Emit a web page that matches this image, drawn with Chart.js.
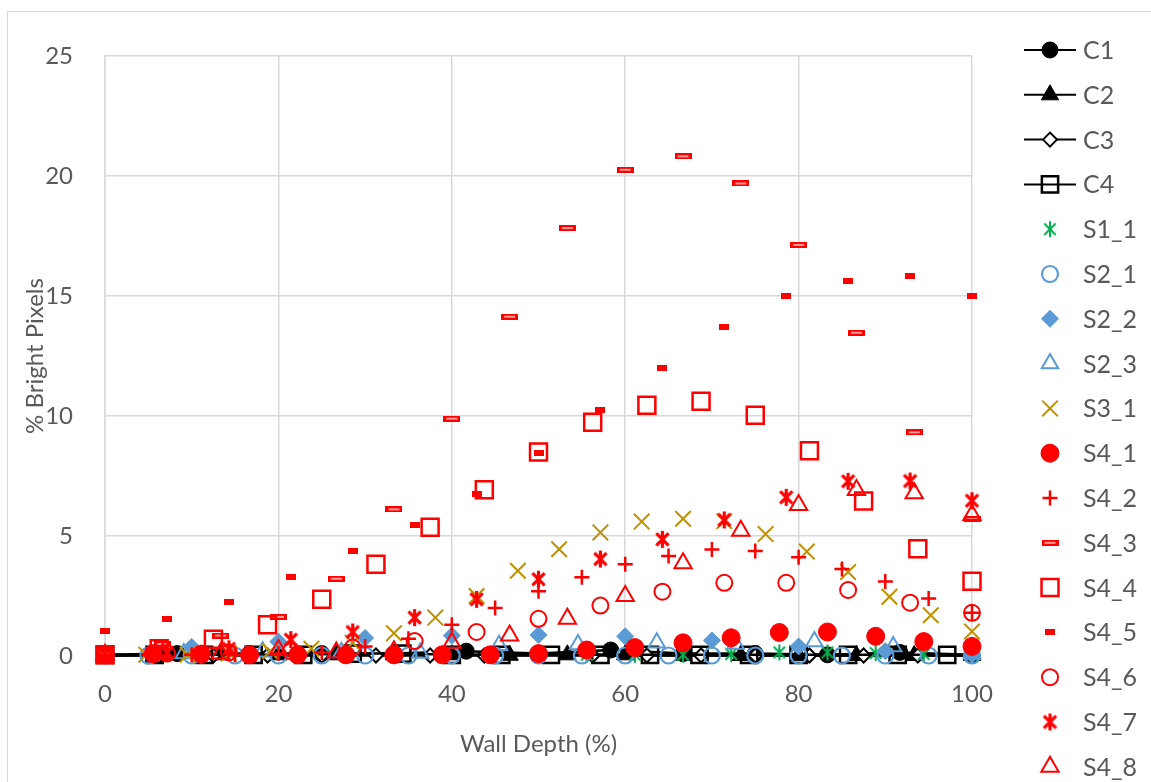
<!DOCTYPE html>
<html>
<head>
<meta charset="utf-8">
<script src="https://cdn.jsdelivr.net/npm/chart.js@4.4.1/dist/chart.umd.min.js"></script>
<style>
    html, body { margin: 0; padding: 0; background: #fff; }
    #wrap { width: 1151px; height: 782px; position: relative; }
</style>
</head>
<body>
<div id="wrap"><canvas id="chart"></canvas></div>
<script>
// ---- data ----
const xTicks = [0, 20, 40, 60, 80, 100];
const yTicks = [0, 5, 10, 15, 20, 25];

const c1X = [0, 8.33, 16.67, 25, 33.33, 41.67, 50, 58.33, 66.67, 75, 83.33, 91.67, 100];
const c1Y = [0.05, 0.1, 0.1, 0.1, 0.1, 0.2, 0.1, 0.25, 0.1, 0.1, 0.05, 0.15, 0.05];

const c2X = [0, 6.67, 13.33, 20, 26.67, 33.33, 40, 46.67, 53.33, 60, 66.67, 73.33, 80, 86.67, 93.33, 100];
const c2Y = [0, 0.05, 0.05, 0.05, 0.05, 0.05, 0.05, 0.03, 0.05, 0.05, 0.02, 0.02, 0.02, 0.02, 0.02, 0.02];

const c3X = [0, 6.25, 12.5, 18.75, 25, 31.25, 37.5, 43.75, 50, 56.25, 62.5, 68.75, 75, 81.25, 87.5, 93.75, 100];
const c3Y = [0.02, 0.02, 0.02, 0.02, 0.02, 0.02, 0.02, 0.02, 0.02, 0.02, 0.02, 0.02, 0.02, 0.02, 0.02, 0.02, 0.02];

const c4X = [0, 5.71, 11.43, 17.14, 22.86, 28.57, 34.29, 40, 45.71, 51.43, 57.14, 62.86, 68.57, 74.29, 80, 85.71, 91.43, 97.14];
const c4Y = [0.05, 0.05, 0.05, 0.05, 0.05, 0.1, 0.1, 0.05, 0.05, 0.05, 0.05, 0.05, 0.05, 0.05, 0.05, 0.05, 0.05, 0.05];

const s11X = [0, 5.56, 11.11, 16.67, 22.22, 27.78, 33.33, 38.89, 44.44, 50, 55.56, 61.11, 66.67, 72.22, 77.78, 83.33, 88.89, 94.44, 100];
const s11Y = [0, 0, 0, 0, 0, 0.02, 0.02, 0.02, 0.05, 0.05, 0.05, 0.05, 0.05, 0.08, 0.15, 0.15, 0.12, 0.08, 0.05];

const s21X = [0, 5, 10, 15, 20, 25, 30, 35, 40, 45, 50, 55, 60, 65, 70, 75, 80, 85, 90, 95, 100];
const s21Y = [0.02, 0.02, 0.02, 0.02, 0.02, 0.02, 0.02, 0.02, 0.02, 0.02, 0.02, 0.02, 0.02, 0.02, 0.02, 0.02, 0.02, 0.02, 0.02, 0.02, 0.02];

const s22X = [0, 10, 20, 30, 40, 50, 60, 70, 80, 90, 100];
const s22Y = [0.1, 0.38, 0.6, 0.75, 0.85, 0.88, 0.82, 0.65, 0.4, 0.2, 0.05];

const s23X = [0, 9.09, 18.18, 27.27, 36.36, 45.45, 54.55, 63.64, 72.73, 81.82, 90.91, 100];
const s23Y = [0.02, 0.1, 0.18, 0.15, 0.12, 0.45, 0.48, 0.55, 0.5, 0.6, 0.4, 0.1];

const s31X = [0, 4.76, 9.52, 14.29, 19.05, 23.81, 28.57, 33.33, 38.1, 42.86, 47.62, 52.38, 57.14, 61.9, 66.67, 71.43, 76.19, 80.95, 85.71, 90.48, 95.24, 100];
const s31Y = [0, 0.05, 0.05, 0.1, 0.2, 0.3, 0.55, 0.95, 1.6, 2.5, 3.55, 4.45, 5.15, 5.6, 5.72, 5.62, 5.08, 4.35, 3.5, 2.47, 1.7, 1.02];

const s41X = [0, 5.56, 11.11, 16.67, 22.22, 27.78, 33.33, 38.89, 44.44, 50, 55.56, 61.11, 66.67, 72.22, 77.78, 83.33, 88.89, 94.44, 100];
const s41Y = [0.05, 0.1, 0.08, 0.05, 0.05, 0.05, 0.05, 0.05, 0.05, 0.1, 0.25, 0.35, 0.55, 0.76, 0.98, 1.0, 0.82, 0.6, 0.4];

const s42X = [0, 5, 10, 15, 20, 25, 30, 35, 40, 45, 50, 55, 60, 65, 70, 75, 80, 85, 90, 95, 100];
const s42Y = [0.05, 0.05, 0.05, 0.05, 0.1, 0.15, 0.4, 0.72, 1.3, 2.0, 2.7, 3.28, 3.82, 4.17, 4.44, 4.37, 4.11, 3.63, 3.1, 2.4, 1.8];

const s43X = [0, 6.67, 13.33, 20, 26.67, 33.33, 40, 46.67, 53.33, 60, 66.67, 73.33, 80, 86.67, 93.33, 100];
const s43Y = [0.15, 0.5, 0.85, 1.63, 3.22, 6.11, 9.89, 14.14, 17.83, 20.26, 20.82, 19.69, 17.13, 13.47, 9.32, 5.7];

const s44X = [0, 6.25, 12.5, 18.75, 25, 31.25, 37.5, 43.75, 50, 56.25, 62.5, 68.75, 75, 81.25, 87.5, 93.75, 100];
const s44Y = [0.05, 0.3, 0.7, 1.3, 2.36, 3.82, 5.36, 6.93, 8.5, 9.74, 10.45, 10.61, 10.03, 8.55, 6.46, 4.47, 3.11];

const s45X = [0, 7.14, 14.29, 21.43, 28.57, 35.71, 42.86, 50, 57.14, 64.29, 71.43, 78.57, 85.71, 92.86, 100];
const s45Y = [1.05, 1.55, 2.26, 3.31, 4.39, 5.46, 6.76, 8.45, 10.25, 12.02, 13.69, 15.0, 15.64, 15.82, 15.0];

const s46X = [0, 7.14, 14.29, 21.43, 28.57, 35.71, 42.86, 50, 57.14, 64.29, 71.43, 78.57, 85.71, 92.86, 100];
const s46Y = [0.05, 0.1, 0.15, 0.2, 0.35, 0.62, 1.0, 1.55, 2.1, 2.68, 3.05, 3.05, 2.75, 2.22, 1.8];

const s47X = [0, 7.14, 14.29, 21.43, 28.57, 35.71, 42.86, 50, 57.14, 64.29, 71.43, 78.57, 85.71, 92.86, 100];
const s47Y = [0.1, 0.15, 0.3, 0.68, 1.0, 1.6, 2.36, 3.2, 4.04, 4.86, 5.67, 6.61, 7.28, 7.29, 6.47];

const s48X = [0, 6.67, 13.33, 20, 26.67, 33.33, 40, 46.67, 53.33, 60, 66.67, 73.33, 80, 86.67, 93.33, 100];
const s48Y = [0.05, 0.1, 0.1, 0.25, 0.15, 0.2, 0.55, 0.85, 1.55, 2.5, 3.86, 5.22, 6.29, 6.92, 6.78, 5.87];

// ---- styles ----
const GREEN = '#00B050', BLUE = '#5B9BD5', GOLD = '#BF9000', RED = '#FF0000';
const TEXT = '#595959', GRID = '#D9D9D9';
const FONT = "Lato, 'Liberation Sans', sans-serif";

function makeAsterisk(color, size, lw) {
    const c = document.createElement('canvas');
    c.width = c.height = size;
    const g = c.getContext('2d');
    const m = size / 2, r = size / 2 - 1, d = r * 0.72;
    g.strokeStyle = color;
    g.lineWidth = lw;
    g.beginPath();
    g.moveTo(m, m - r); g.lineTo(m, m + r);
    g.moveTo(m - d, m - d); g.lineTo(m + d, m + d);
    g.moveTo(m + d, m - d); g.lineTo(m - d, m + d);
    g.stroke();
    return c;
}

function makeDash(w, h, color, inner) {
    const c = document.createElement('canvas');
    c.width = w; c.height = h;
    const g = c.getContext('2d');
    g.fillStyle = color;
    g.fillRect(0, 0, w, h);
    if (inner) {
        g.fillStyle = inner;
        g.fillRect(3, 2, w - 6, h - 4);
    }
    return c;
}

const starGreen = makeAsterisk(GREEN, 18, 2);
const starRed = makeAsterisk(RED, 19, 3.2);
const dashOpen = makeDash(17, 6, RED, '#FF9A9A');
const dashFull = makeDash(10, 6, RED, null);

const series = [
    {label: 'C1', x: c1X, y: c1Y, style: 'circle', r: 8, fill: '#000', stroke: '#000', bw: 1, line: true},
    {label: 'C2', x: c2X, y: c2Y, style: 'triangle', r: 10, fill: '#000', stroke: '#000', bw: 1, line: true},
    {label: 'C3', x: c3X, y: c3Y, style: 'rectRot', r: 7, fill: '#fff', stroke: '#000', bw: 2, line: true},
    {label: 'C4', x: c4X, y: c4Y, style: 'rect', r: 11.5, fill: 'rgba(0,0,0,0)', stroke: '#000', bw: 2.5, line: true},
    {label: 'S1_1', x: s11X, y: s11Y, style: starGreen, r: 8, fill: GREEN, stroke: GREEN, bw: 0},
    {label: 'S2_1', x: s21X, y: s21Y, style: 'circle', r: 8, fill: 'rgba(0,0,0,0)', stroke: BLUE, bw: 2.2},
    {label: 'S2_2', x: s22X, y: s22Y, style: 'rectRot', r: 8.5, fill: BLUE, stroke: BLUE, bw: 1},
    {label: 'S2_3', x: s23X, y: s23Y, style: 'triangle', r: 9.5, fill: 'rgba(0,0,0,0)', stroke: BLUE, bw: 2},
    {label: 'S3_1', x: s31X, y: s31Y, style: 'crossRot', r: 11, fill: GOLD, stroke: GOLD, bw: 2},
    {label: 'S4_1', x: s41X, y: s41Y, style: 'circle', r: 9, fill: RED, stroke: RED, bw: 1},
    {label: 'S4_2', x: s42X, y: s42Y, style: 'cross', r: 7.5, fill: RED, stroke: RED, bw: 2.5},
    {label: 'S4_3', x: s43X, y: s43Y, style: dashOpen, r: 8, fill: RED, stroke: RED, bw: 0},
    {label: 'S4_4', x: s44X, y: s44Y, style: 'rect', r: 12, fill: 'rgba(0,0,0,0)', stroke: RED, bw: 2.5},
    {label: 'S4_5', x: s45X, y: s45Y, style: dashFull, r: 6, fill: RED, stroke: RED, bw: 0},
    {label: 'S4_6', x: s46X, y: s46Y, style: 'circle', r: 8, fill: 'rgba(0,0,0,0)', stroke: RED, bw: 2},
    {label: 'S4_7', x: s47X, y: s47Y, style: starRed, r: 9, fill: RED, stroke: RED, bw: 0},
    {label: 'S4_8', x: s48X, y: s48Y, style: 'triangle', r: 10, fill: 'rgba(0,0,0,0)', stroke: RED, bw: 2},
];

const datasets = series.map((s, i) => ({
    label: s.label,
    data: s.x.map((v, k) => ({x: v, y: s.y[k]})),
    showLine: !!s.line,
    borderColor: '#000',
    borderWidth: 2.5,
    pointStyle: s.style,
    pointRadius: s.r,
    pointBackgroundColor: s.fill,
    pointBorderColor: s.stroke,
    pointBorderWidth: s.bw,
    clip: false,
    order: -i,
}));

// frame round the whole chart, like the office chart border
const framePlugin = {
    id: 'frame',
    beforeDraw(chart) {
        const ctx = chart.ctx;
        ctx.save();
        ctx.strokeStyle = GRID;
        ctx.lineWidth = 1;
        ctx.strokeRect(7.5, 11.5, 1300, 900);
        ctx.restore();
    }
};

// legend on the right: line + marker for the C series, marker only for the rest
const legendPlugin = {
    id: 'sideLegend',
    afterDraw(chart) {
        const ctx = chart.ctx;
        const top = 50, gap = 44.8, mx = 1050;
        ctx.save();
        chart.data.datasets.forEach((ds, i) => {
            const y = top + i * gap;
            if (ds.showLine) {
                ctx.strokeStyle = '#000';
                ctx.lineWidth = 2;
                ctx.beginPath();
                ctx.moveTo(mx - 26, y);
                ctx.lineTo(mx + 26, y);
                ctx.stroke();
            }
            ctx.fillStyle = ds.pointBackgroundColor;
            ctx.strokeStyle = ds.pointBorderColor;
            ctx.lineWidth = ds.pointBorderWidth;
            Chart.helpers.drawPoint(ctx, {
                pointStyle: ds.pointStyle,
                radius: ds.pointRadius,
                rotation: 0,
                borderWidth: ds.pointBorderWidth
            }, mx, y);
            ctx.fillStyle = TEXT;
            ctx.font = '25px ' + FONT;
            ctx.textAlign = 'left';
            ctx.textBaseline = 'middle';
            ctx.fillText(ds.label, 1083, y + 1);
        });
        ctx.restore();
    }
};

new Chart(document.getElementById('chart').getContext('2d'), {
    type: 'scatter',
    data: {datasets: datasets},
    plugins: [framePlugin, legendPlugin],
    options: {
        responsive: true,
        maintainAspectRatio: false,
        animation: false,
        events: [],
        layout: {padding: {left: 0, top: 56, right: 179, bottom: 0}},
        plugins: {legend: {display: false}, tooltip: {enabled: false}},
        scales: {
            x: {
                type: 'linear',
                min: xTicks[0],
                max: xTicks[xTicks.length - 1],
                afterBuildTicks: (s) => { s.ticks = xTicks.map(v => ({value: v})); },
                afterFit: (s) => { s.height = 126; },
                ticks: {color: TEXT, font: {family: FONT, size: 24}, padding: 24, maxRotation: 0},
                grid: {color: GRID, lineWidth: 1.5, drawTicks: false},
                border: {color: GRID, width: 1.5},
                title: {display: true, text: 'Wall Depth (%)', color: TEXT,
                        font: {family: FONT, size: 24}, padding: {top: 0, bottom: 23}}
            },
            y: {
                type: 'linear',
                min: yTicks[0],
                max: yTicks[yTicks.length - 1],
                afterBuildTicks: (s) => { s.ticks = yTicks.map(v => ({value: v})); },
                afterFit: (s) => { s.width = 105; },
                ticks: {color: TEXT, font: {family: FONT, size: 24}, padding: 32},
                grid: {color: GRID, lineWidth: 1.5, drawTicks: false},
                border: {color: GRID, width: 1.5},
                title: {display: true, text: '% Bright Pixels', color: TEXT,
                        font: {family: FONT, size: 24}, padding: {top: 21, bottom: 0}}
            }
        }
    }
});
</script>
</body>
</html>
